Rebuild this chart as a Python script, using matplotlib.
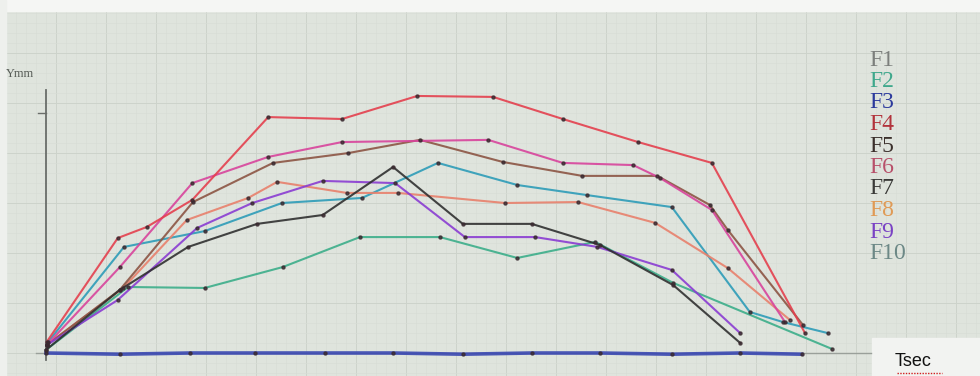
import matplotlib
matplotlib.use('Agg')
import matplotlib.pyplot as plt
from matplotlib.patches import Rectangle

# hand plotted curves (x: Tsec, y: Ymm, arbitrary units)
labels = ["F1", "F2", "F3", "F4", "F5", "F6", "F7", "F8", "F9", "F10"]
label_colors = ["#7c7f7c", "#3fa88c", "#2c3a9c", "#b2333c", "#3b302c",
                "#b8506a", "#3a3a38", "#e09a55", "#7a42c4", "#6c8886"]

f2_x = [0.0, 1.19, 2.3, 3.43, 4.55, 5.71, 6.83, 7.96, 9.09, 11.39]
f2_y = [0.13, 2.75, 2.71, 3.58, 4.83, 4.83, 3.96, 4.63, 2.92, 0.17]

f3_x = [0.0, 1.07, 2.09, 3.03, 4.04, 5.03, 6.04, 7.04, 8.03, 9.07, 10.06, 10.95]
f3_y = [0.0, -0.05, 0.0, 0.0, 0.0, 0.0, -0.05, 0.0, 0.0, -0.05, 0.0, -0.05]

f4_x = [0.01, 1.04, 1.46, 2.12, 3.22, 4.29, 5.38, 6.48, 7.49, 8.58, 9.65, 11.0]
f4_y = [0.46, 4.79, 5.25, 6.38, 9.83, 9.75, 10.71, 10.67, 9.75, 8.79, 7.92, 0.83]

f5_x = [0.01, 1.07, 2.13, 3.29, 4.38, 5.42, 6.62, 7.77, 8.86, 9.62, 9.88, 10.97]
f5_y = [0.33, 2.63, 6.29, 7.92, 8.33, 8.88, 7.96, 7.38, 7.38, 6.17, 5.13, 1.17]

f6_x = [0.01, 1.07, 2.12, 3.22, 4.29, 6.41, 7.49, 8.51, 8.9, 9.65, 10.71]
f6_y = [0.33, 3.58, 7.08, 8.17, 8.79, 8.88, 7.92, 7.83, 7.29, 5.96, 1.29]

f7_x = [0.0, 1.07, 2.06, 3.06, 4.01, 5.03, 6.04, 7.04, 8.03, 9.09, 10.06]
f7_y = [0.13, 2.63, 4.42, 5.38, 5.75, 7.75, 5.38, 5.38, 4.5, 2.83, 0.42]

f8_x = [0.01, 1.12, 2.04, 2.93, 3.35, 4.36, 5.1, 6.65, 7.71, 8.83, 9.88, 10.78]
f8_y = [0.33, 2.71, 5.54, 6.46, 7.13, 6.67, 6.67, 6.25, 6.29, 5.42, 3.54, 1.38]

f9_x = [0.01, 1.04, 2.19, 2.99, 4.01, 5.06, 6.07, 7.09, 7.99, 9.07, 10.06]
f9_y = [0.33, 2.21, 5.21, 6.25, 7.17, 7.08, 4.83, 4.83, 4.42, 3.46, 0.83]

f10_x = [0.03, 1.13, 2.3, 3.42, 4.58, 5.68, 6.83, 7.84, 9.07, 10.2, 10.68, 11.33]
f10_y = [0.46, 4.42, 5.08, 6.25, 6.46, 7.92, 7.0, 6.58, 6.08, 1.71, 1.29, 0.83]

series = [
    (f2_x, f2_y, "#3cae8a", 1.5),
    (f10_x, f10_y, "#2d9cb8", 1.5),
    (f8_x, f8_y, "#e8806c", 1.5),
    (f5_x, f5_y, "#8c5544", 1.5),
    (f6_x, f6_y, "#d8449c", 1.5),
    (f9_x, f9_y, "#8a3cd2", 1.5),
    (f7_x, f7_y, "#303030", 1.5),
    (f4_x, f4_y, "#e4404e", 1.5),
    (f3_x, f3_y, "#3a48b2", 2.6),
]

W, H = 980, 376
fig = plt.figure(figsize=(W / 100, H / 100), dpi=100)
fig.patch.set_facecolor("#dfe4dd")

# graph paper in pixel space
bg = fig.add_axes([0, 0, 1, 1])
bg.set_xlim(0, W)
bg.set_ylim(H, 0)
bg.axis("off")
for i, gx in enumerate(range(6, W, 10)):
    bg.axvline(gx, color="#cdd3cb" if i % 5 == 0 else "#d8ddd6", lw=0.7 if i % 5 == 0 else 0.5, zorder=0)
for i, gy in enumerate(range(3, H, 10)):
    bg.axhline(gy, color="#cdd3cb" if i % 5 == 0 else "#d8ddd6", lw=0.7 if i % 5 == 0 else 0.5, zorder=0)
bg.add_patch(Rectangle((0, 0), W, 11, color="#f5f6f4", zorder=1))
bg.add_patch(Rectangle((0, 0), 6, H, color="#eef0ed", zorder=1))
bg.add_patch(Rectangle((872, 338), 108, 38, color="#f2f3f1", zorder=1))

# data axes, origin of the sheet at about (46, 353) px
ax = fig.add_axes([0, 0, 1, 1], facecolor="none")
x0, y0, sx, sy = 46, 353, 69, 24
ax.set_xlim(-x0 / sx, (W - x0) / sx)
ax.set_ylim((y0 - H) / sy, y0 / sy)
ax.axis("off")

# drawn axes
ax.plot([0, 0], [-0.3, 10.95], color="#6a6e6a", lw=1.3, zorder=2)
ax.plot([-0.15, 11.95], [0, 0], color="#9aa09a", lw=1.0, zorder=2)
ax.plot([-0.12, 0.0], [10.0, 10.0], color="#6a6e6a", lw=1.0, zorder=2)

for xs, ys, c, w in series:
    ax.plot(xs, ys, color=c, lw=w, alpha=0.9, zorder=3, solid_joinstyle="miter")
    ax.plot(xs, ys, ls="none", marker="o", ms=2.2, color="#3a2a30", alpha=0.8, zorder=4)

ax.text(-0.58, 11.62, "Ymm", fontsize=9, family="Liberation Serif", color="#555a55", va="center")
ax.text(12.3, -0.35, "Tsec", fontsize=13, family="Liberation Sans", color="#111111", va="center")
ax.plot([12.33, 12.98], [-0.82, -0.82], color="#d02020", lw=1.0, ls=(0, (1, 1)), zorder=5)

for i, (lab, c) in enumerate(zip(labels, label_colors)):
    bg.text(869, 60 + i * 21.5, lab, fontsize=17, family="Liberation Serif", color=c, va="center", zorder=5)

fig.savefig("out.png", dpi=100, facecolor=fig.get_facecolor())
